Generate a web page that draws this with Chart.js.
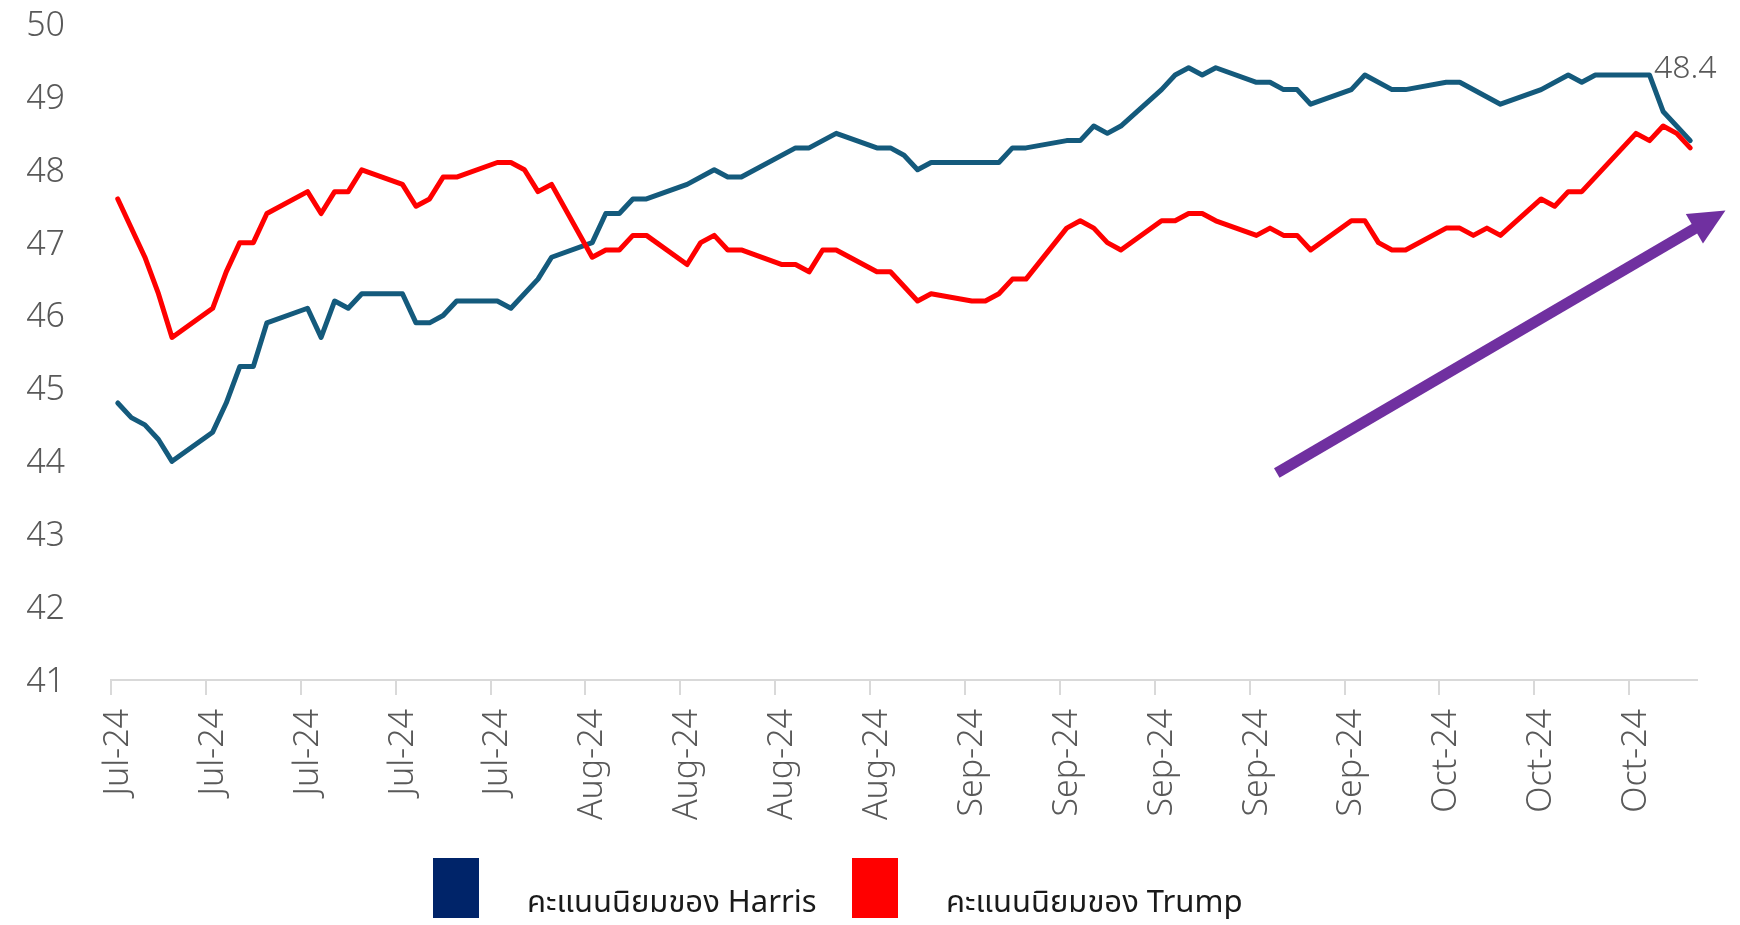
<!DOCTYPE html>
<html>
<head>
<meta charset="utf-8">
<script src="https://cdn.jsdelivr.net/npm/chart.js@4.4.1/dist/chart.umd.min.js"></script>
<style>
  html, body { margin: 0; padding: 0; background: #ffffff; }
  #wrap { width: 1740px; height: 925px; position: relative; }
</style>
</head>
<body>
<div id="wrap"><canvas id="pollChart"></canvas></div>
<script>
const harrisColor = "#145a7c";
const trumpColor = "#ff0000";
const harrisLegendColor = "#002469";
const labelGrey = "#595959";
const axisGrey = "#d9d9d9";
const fontStack = "'Noto Sans Thai', 'Open Sans', 'Noto Sans', sans-serif";

// day 0 = 1 Jul 2024, ticks every 7 days
const xTickLabels = [
  "Jul-24", "Jul-24", "Jul-24", "Jul-24", "Jul-24",
  "Aug-24", "Aug-24", "Aug-24", "Aug-24",
  "Sep-24", "Sep-24", "Sep-24", "Sep-24", "Sep-24",
  "Oct-24", "Oct-24", "Oct-24"
];

const harrisDays = [0, 1, 2, 3, 4, 7, 8, 9, 10, 11, 14, 15, 16, 17, 18, 21, 22, 23, 24, 25, 28, 29, 31, 32, 35, 36, 37, 38, 39, 42, 44, 45, 46, 50, 51, 53, 56, 57, 58, 59, 60, 65, 66, 67, 70, 71, 72, 73, 74, 77, 78, 79, 80, 81, 84, 85, 86, 87, 88, 91, 92, 94, 95, 98, 99, 102, 105, 107, 108, 109, 113, 114, 116];
const harrisValues = [44.8, 44.6, 44.5, 44.3, 44.0, 44.4, 44.8, 45.3, 45.3, 45.9, 46.1, 45.7, 46.2, 46.1, 46.3, 46.3, 45.9, 45.9, 46.0, 46.2, 46.2, 46.1, 46.5, 46.8, 47.0, 47.4, 47.4, 47.6, 47.6, 47.8, 48.0, 47.9, 47.9, 48.3, 48.3, 48.5, 48.3, 48.3, 48.2, 48.0, 48.1, 48.1, 48.3, 48.3, 48.4, 48.4, 48.6, 48.5, 48.6, 49.1, 49.3, 49.4, 49.3, 49.4, 49.2, 49.2, 49.1, 49.1, 48.9, 49.1, 49.3, 49.1, 49.1, 49.2, 49.2, 48.9, 49.1, 49.3, 49.2, 49.3, 49.3, 48.8, 48.4];

const trumpDays = [0, 2, 3, 4, 7, 8, 9, 10, 11, 14, 15, 16, 17, 18, 21, 22, 23, 24, 25, 28, 29, 30, 31, 32, 35, 36, 37, 38, 39, 42, 43, 44, 45, 46, 49, 50, 51, 52, 53, 56, 57, 59, 60, 63, 64, 65, 66, 67, 70, 71, 72, 73, 74, 77, 78, 79, 80, 81, 84, 85, 86, 87, 88, 91, 92, 93, 94, 95, 98, 99, 100, 101, 102, 105, 106, 107, 108, 112, 113, 114, 115, 116];
const trumpValues = [47.6, 46.8, 46.3, 45.7, 46.1, 46.6, 47.0, 47.0, 47.4, 47.7, 47.4, 47.7, 47.7, 48.0, 47.8, 47.5, 47.6, 47.9, 47.9, 48.1, 48.1, 48.0, 47.7, 47.8, 46.8, 46.9, 46.9, 47.1, 47.1, 46.7, 47.0, 47.1, 46.9, 46.9, 46.7, 46.7, 46.6, 46.9, 46.9, 46.6, 46.6, 46.2, 46.3, 46.2, 46.2, 46.3, 46.5, 46.5, 47.2, 47.3, 47.2, 47.0, 46.9, 47.3, 47.3, 47.4, 47.4, 47.3, 47.1, 47.2, 47.1, 47.1, 46.9, 47.3, 47.3, 47.0, 46.9, 46.9, 47.2, 47.2, 47.1, 47.2, 47.1, 47.6, 47.5, 47.7, 47.7, 48.5, 48.4, 48.6, 48.5, 48.3];

// trend arrow, in (day, value) units
const arrowFrom = [85.5, 43.84];
const arrowTo = [118.6, 47.44];

function toPoints(days, values) {
  return days.map((d, i) => ({ x: d, y: values[i] }));
}

const overlayPlugin = {
  id: "overlay",
  afterDraw(chart) {
    const ctx = chart.ctx;
    const xs = chart.scales.x;
    const ys = chart.scales.y;

    // last value label for Harris
    const lastDay = harrisDays[harrisDays.length - 1];
    const lastVal = harrisValues[harrisValues.length - 1];
    ctx.save();
    ctx.font = "300 32px " + fontStack;
    ctx.fillStyle = labelGrey;
    ctx.textAlign = "center";
    ctx.textBaseline = "alphabetic";
    ctx.fillText(lastVal.toFixed(1), xs.getPixelForValue(lastDay) - 5, ys.getPixelForValue(lastVal) - 63);
    ctx.restore();

    // purple arrow
    const x1 = xs.getPixelForValue(arrowFrom[0]);
    const y1 = ys.getPixelForValue(arrowFrom[1]);
    const x2 = xs.getPixelForValue(arrowTo[0]);
    const y2 = ys.getPixelForValue(arrowTo[1]);
    const len = Math.hypot(x2 - x1, y2 - y1);
    const ux = (x2 - x1) / len;
    const uy = (y2 - y1) / len;
    const headLen = 36;
    const headHalf = 17;
    const bx = x2 - ux * headLen;
    const by = y2 - uy * headLen;
    ctx.save();
    ctx.strokeStyle = "#7030a0";
    ctx.fillStyle = "#7030a0";
    ctx.lineWidth = 11;
    ctx.lineCap = "butt";
    ctx.beginPath();
    ctx.moveTo(x1, y1);
    ctx.lineTo(bx + ux * 2, by + uy * 2);
    ctx.stroke();
    ctx.beginPath();
    ctx.moveTo(x2, y2);
    ctx.lineTo(bx - uy * headHalf, by + ux * headHalf);
    ctx.lineTo(bx + uy * headHalf, by - ux * headHalf);
    ctx.closePath();
    ctx.fill();
    ctx.restore();

    // legend
    const legendX = [433, 852];
    ctx.save();
    ctx.font = "31px " + fontStack;
    ctx.textBaseline = "alphabetic";
    ctx.textAlign = "left";
    chart.data.datasets.forEach((ds, i) => {
      ctx.fillStyle = ds.legendColor;
      ctx.fillRect(legendX[i], 858, 46, 60);
      ctx.fillStyle = "#1a1a1a";
      ctx.fillText(ds.label, legendX[i] + 94, 912);
    });
    ctx.restore();
  }
};

window.addEventListener("DOMContentLoaded", function() {
  const canvas = document.getElementById("pollChart");
  new Chart(canvas.getContext("2d"), {
    type: "line",
    data: {
      datasets: [
        {
          label: "คะแนนนิยมของ Harris",
          data: toPoints(harrisDays, harrisValues),
          borderColor: harrisColor,
          legendColor: harrisLegendColor,
          borderWidth: 5,
          order: 2,
        },
        {
          label: "คะแนนนิยมของ Trump",
          data: toPoints(trumpDays, trumpValues),
          borderColor: trumpColor,
          legendColor: trumpColor,
          borderWidth: 5,
          order: 1,
        },
      ],
    },
    options: {
      animation: false,
      responsive: true,
      maintainAspectRatio: false,
      events: [],
      elements: {
        line: { tension: 0, borderJoinStyle: "round", borderCapStyle: "round", fill: false },
        point: { radius: 0 },
      },
      layout: {
        padding: { top: 24, right: 43, bottom: 95, left: 0 },
      },
      plugins: {
        legend: { display: false },
        tooltip: { enabled: false },
      },
      scales: {
        x: {
          type: "linear",
          min: -0.5,
          max: 116.5,
          afterBuildTicks: (axis) => {
            axis.ticks = xTickLabels.map((t, i) => ({ value: -0.5 + i * 7 }));
          },
          afterFit: (axis) => { axis.height = 150; },
          ticks: {
            autoSkip: false,
            minRotation: 90,
            maxRotation: 90,
            padding: 14,
            labelOffset: 10,
            color: labelGrey,
            font: { family: fontStack, size: 34, weight: 300 },
            callback: (value, index) => xTickLabels[index],
          },
          grid: {
            display: true,
            drawOnChartArea: false,
            drawTicks: true,
            tickLength: 15,
            color: axisGrey,
            lineWidth: 2,
          },
          border: { display: true, color: axisGrey, width: 2 },
        },
        y: {
          min: 41,
          max: 50,
          afterFit: (axis) => {
            axis.width = 111;
            axis.paddingTop = 20;
            axis.paddingBottom = 0;
          },
          ticks: {
            stepSize: 1,
            padding: 46,
            labelOffset: 5,
            color: labelGrey,
            font: { family: fontStack, size: 34, weight: 300 },
          },
          grid: { display: false, drawTicks: false },
          border: { display: false },
        },
      },
    },
    plugins: [overlayPlugin],
  });
});
</script>
</body>
</html>
